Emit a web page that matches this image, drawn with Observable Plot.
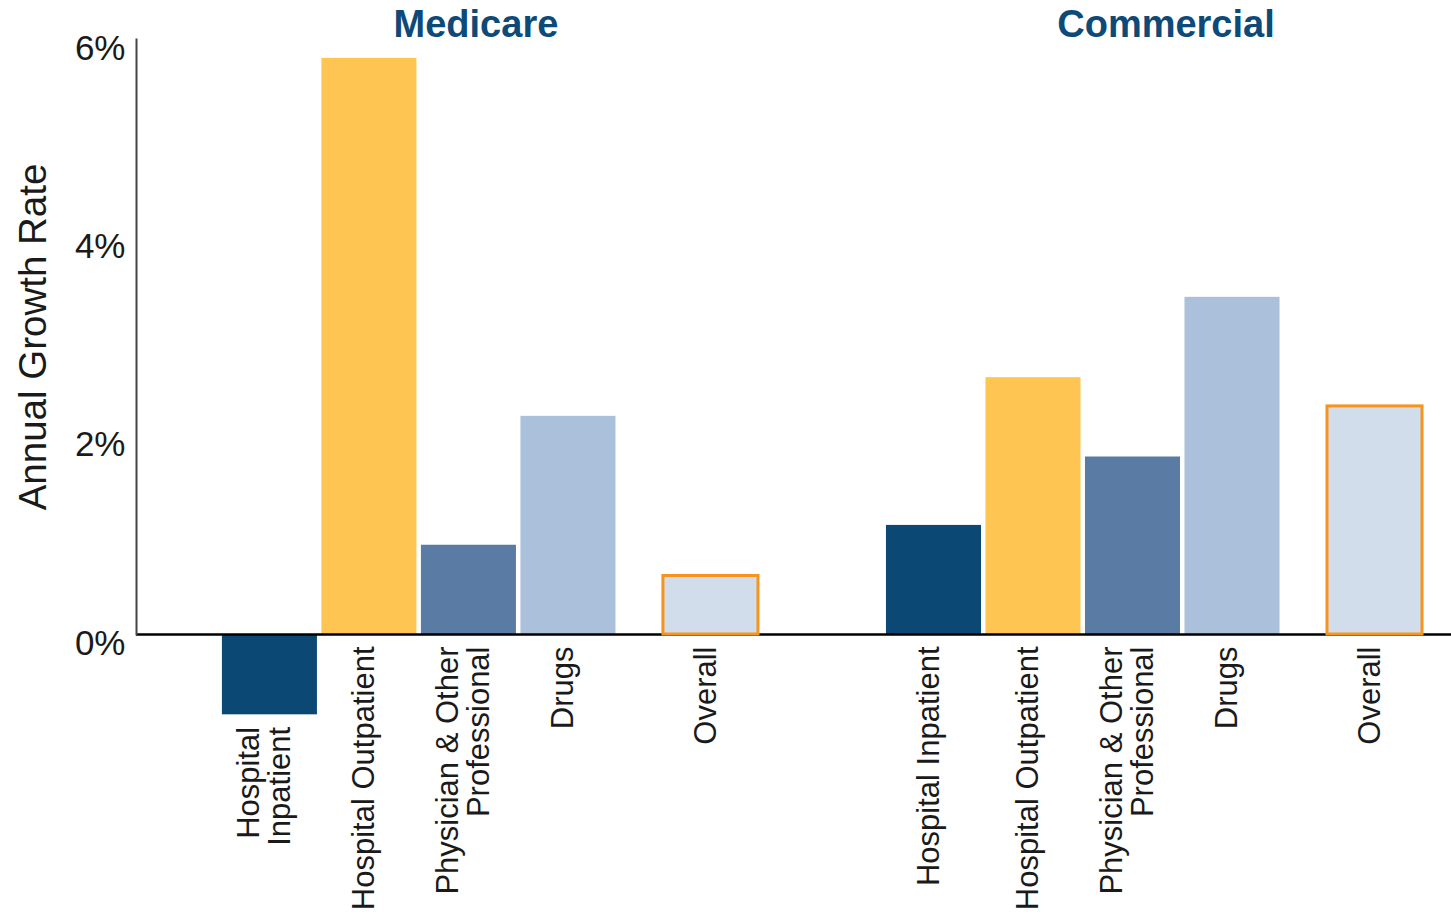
<!DOCTYPE html>
<html>
<head>
<meta charset="utf-8">
<script src="https://cdn.jsdelivr.net/npm/d3@7"></script>
<script src="https://cdn.jsdelivr.net/npm/@observablehq/plot@0.6"></script>
<style>
  html, body { margin: 0; padding: 0; background: #fff; }
</style>
</head>
<body>
<div id="chart"></div>
<script>
// ---- data ----
const groups = ["Medicare", "Commercial"];
const categories = ["Hospital Inpatient", "Hospital Outpatient", "Physician & Other Professional", "Drugs", "Overall"];
const medicareValues = [-0.81, 5.81, 0.90, 2.20, 0.59];
const commercialValues = [1.10, 2.59, 1.79, 3.40, 2.30];
const medicareLabels = ["Hospital\nInpatient", "Hospital Outpatient", "Physician & Other\nProfessional", "Drugs", "Overall"];
const commercialLabels = ["Hospital Inpatient", "Hospital Outpatient", "Physician & Other\nProfessional", "Drugs", "Overall"];
const yTicks = [0, 2, 4, 6];
const yLabel = "Annual Growth Rate";

// ---- styling / layout ----
const colors = ["#0b4874", "#fec553", "#5a7ba3", "#abc0db", "#d2ddec"];
const groupShift = {Medicare: 0, Commercial: 67};
const overallShift = 43;
const titleAnchor = "Physician & Other Professional";
const titleShift = {Medicare: 7, Commercial: 33};
const font = "'Liberation Sans', Arial, sans-serif";

const valuesBy = {Medicare: medicareValues, Commercial: commercialValues};
const labelsBy = {Medicare: medicareLabels, Commercial: commercialLabels};
const rows = groups.flatMap(g => categories.map((c, i) => ({
  group: g, category: c, value: valuesBy[g][i], label: labelsBy[g][i], key: g + "|" + c
})));
const xDomain = [
  ...categories.map(c => "Medicare|" + c),
  "gap",
  ...categories.map(c => "Commercial|" + c)
];

const marks = [];
for (const g of groups) {
  marks.push(Plot.barY(rows.filter(d => d.group === g && d.category !== "Overall"), {
    x: "key", y: "value", fill: "category", dx: groupShift[g]
  }));
}
marks.push(Plot.ruleY([0], {stroke: "#000", strokeWidth: 2.5}));
marks.push(Plot.frame({anchor: "left", stroke: "#444", strokeWidth: 2}));
for (const g of groups) {
  marks.push(Plot.barY(rows.filter(d => d.group === g && d.category === "Overall"), {
    x: "key", y: "value", fill: "category", stroke: "#f7941d", strokeWidth: 3,
    dx: groupShift[g] + overallShift
  }));
  for (const overall of [false, true]) {
    marks.push(Plot.text(rows.filter(d => d.group === g && (d.category === "Overall") === overall), {
      x: "key", y: d => Math.min(0, d.value), text: "label",
      rotate: -90, textAnchor: "end", lineAnchor: "middle",
      dy: 12, dx: groupShift[g] + (overall ? overallShift : 0) - 5,
      fontSize: 31, fill: "#1a1a1a"
    }));
  }
  marks.push(Plot.text([g], {
    x: () => g + "|" + titleAnchor, frameAnchor: "top", text: d => d,
    textAnchor: "middle", lineAnchor: "middle",
    dy: -15, dx: groupShift[g] + titleShift[g],
    fontSize: 38, fontWeight: "bold", fill: "#0d4a78"
  }));
}
marks.push(Plot.axisY({
  ticks: yTicks, tickFormat: d => d + "%", tickSize: 0, tickPadding: 11,
  fontSize: 35, dy: 9, label: null, fill: "#1a1a1a"
}));
marks.push(Plot.text([yLabel], {
  frameAnchor: "left", text: d => d, rotate: -90, dx: -103,
  textAnchor: "middle", lineAnchor: "middle",
  fontSize: 38.5, fill: "#1a1a1a"
}));

const chart = Plot.plot({
  width: 1451,
  height: 916,
  marginLeft: 136,
  marginRight: 0,
  marginTop: 39,
  marginBottom: 282,
  style: {fontFamily: font, background: "#fff", overflow: "visible"},
  x: {domain: xDomain, axis: null, paddingInner: 0.045, paddingOuter: 1.13, align: 0.382, round: false},
  y: {domain: [0, 6]},
  color: {domain: categories, range: colors},
  marks
});
document.getElementById("chart").appendChild(chart);
</script>
</body>
</html>
